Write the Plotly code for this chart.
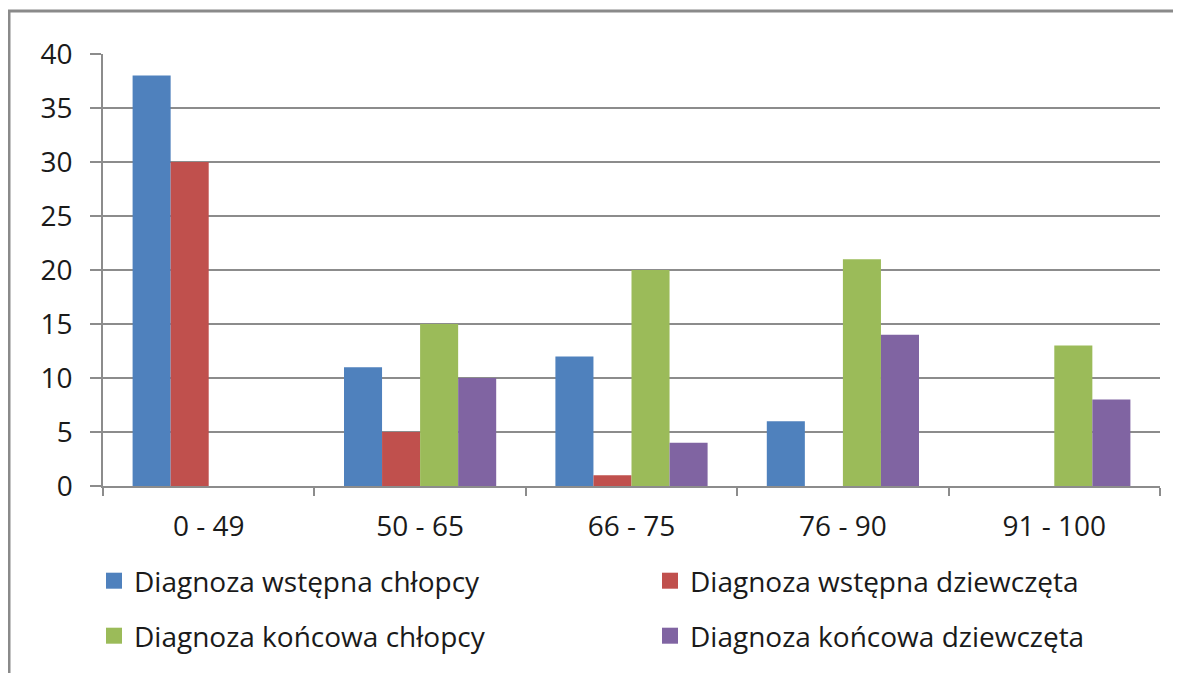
import plotly.graph_objects as go

categories = ["0 - 49", "50 - 65", "66 - 75", "76 - 90", "91 - 100"]
series_names = [
    "Diagnoza wstępna chłopcy",
    "Diagnoza wstępna dziewczęta",
    "Diagnoza końcowa chłopcy",
    "Diagnoza końcowa dziewczęta",
]
wstepna_chlopcy = [38, 11, 12, 6, 0]
wstepna_dziewczeta = [30, 5, 1, 0, 0]
koncowa_chlopcy = [0, 15, 20, 21, 13]
koncowa_dziewczeta = [0, 10, 4, 14, 8]
y_ticks = [0, 5, 10, 15, 20, 25, 30, 35, 40]

colors = ["#4F81BD", "#C0504D", "#9BBB59", "#8064A2"]
values = [wstepna_chlopcy, wstepna_dziewczeta, koncowa_chlopcy, koncowa_dziewczeta]
legend_ids = ["legend", "legend2", "legend3", "legend4"]

FONT = "Open Sans"
FS = 28
GRID = "#8C8C8C"
OFF = 8  # page body margin offset
W, H = 1181 - OFF, 673 - OFF

fig = go.Figure()
for name, vals, col in zip(series_names, values, colors):
    fig.add_trace(go.Bar(
        x=categories, y=vals, name=name,
        marker=dict(color=col, line=dict(width=0)),
        showlegend=False,
    ))
# legend entries (square swatches)
for name, col, lg in zip(series_names, colors, legend_ids):
    fig.add_trace(go.Scatter(
        x=[None], y=[None], name=name, mode="markers",
        marker=dict(symbol="square", size=16, color=col, line=dict(width=0)),
        legend=lg, showlegend=True, hoverinfo="skip",
    ))

# legend slot positions (absolute page px): marker centre x, row centre y
col_x = [114.5, 670.5]
row_y = [581, 636]
slots = [(0, 0), (1, 0), (0, 1), (1, 1)]

legend_layouts = {}
for lg, (c, r) in zip(legend_ids, slots):
    legend_layouts[lg] = dict(
        orientation="h",
        xref="container", yref="container",
        xanchor="left", yanchor="middle",
        x=(col_x[c] - OFF - 20.5) / W,
        y=1 - (row_y[r] - OFF) / H,
        font=dict(family=FONT, size=FS, color="#1a1a1a"),
        bgcolor="rgba(0,0,0,0)",
    )

fig.update_layout(
    width=W, height=H,
    margin=dict(l=103 - OFF, r=1181 - 1160, t=54 - OFF, b=673 - 486, autoexpand=False),
    paper_bgcolor="white", plot_bgcolor="white",
    barmode="group", bargap=0.28, bargroupgap=0,
    font=dict(family=FONT, size=FS, color="#1a1a1a"),
    **legend_layouts,
    xaxis=dict(
        type="category",
        categoryorder="array", categoryarray=categories,
        automargin=False,
        showgrid=False,
        showline=True, linecolor=GRID, linewidth=1.5,
        ticks="outside", ticklen=8, tickcolor=GRID, tickwidth=1.5,
        tickson="boundaries",
        ticklabelstandoff=15,
        tickfont=dict(family=FONT, size=FS, color="#1a1a1a"),
    ),
    yaxis=dict(
        range=[0, 40],
        automargin=False,
        tickvals=y_ticks,
        showgrid=True, gridcolor=GRID, gridwidth=1.5,
        showline=True, linecolor=GRID, linewidth=1.5,
        ticks="outside", ticklen=11, tickcolor=GRID, tickwidth=1.5,
        ticklabelstandoff=12,
        zeroline=False,
        tickfont=dict(family=FONT, size=FS, color="#1a1a1a"),
    ),
    shapes=[
        dict(type="rect", xref="paper", yref="paper",
             x0=(9 - 103) / 1057, x1=1.2, y0=-0.6, y1=(486 - 11) / 432,
             line=dict(color="#8A8A8A", width=3), fillcolor="rgba(0,0,0,0)",
             layer="below"),
    ],
)

fig.write_html("out.html")
